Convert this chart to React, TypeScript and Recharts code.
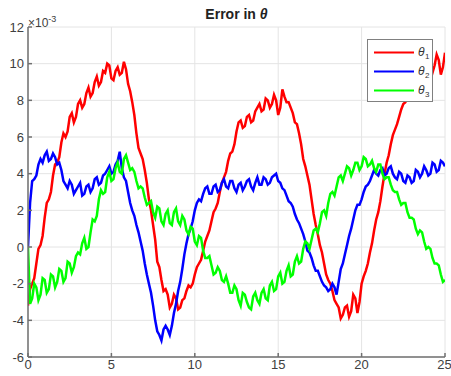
import { LineChart, Line, XAxis, YAxis, CartesianGrid } from "recharts";

// sample spacing of the time axis (s)
const STEP = 0.125;

// θ errors, in units of 1e-3, one value per STEP from t = 0 to t = 25
const theta1 = [
  -3.2, -2.3, -2.0, -1.7, -0.9, -0.1, 0.1, 0.6, 1.6, 2.4, 2.6, 3.0, 3.9, 4.5, 4.6, 4.9, 5.7, 6.2, 6.0, 6.3,
  7.1, 7.3, 6.8, 7.1, 7.8, 8.0, 7.6, 7.8, 8.4, 8.7, 8.2, 8.4, 9.0, 9.3, 8.8, 9.0, 9.6, 9.5, 10.0, 9.9,
  9.2, 9.1, 9.6, 9.8, 9.4, 9.5, 10.1, 9.7, 8.9, 8.5, 7.9, 7.2, 6.2, 5.4, 5.1, 4.8, 4.2, 3.5, 2.6, 2.0,
  1.2, 0.4, -0.8, -1.1, -1.8, -2.4, -2.3, -2.6, -3.3, -3.1, -2.6, -2.8, -3.4, -3.3, -2.9, -2.8, -2.4, -2.1, -2.2, -2.0,
  -1.5, -1.1, -0.9, -0.7, -0.2, 0.3, 0.6, 0.9, 1.4, 1.9, 2.1, 2.4, 3.0, 3.5, 3.8, 4.1, 4.7, 5.1, 5.2, 5.6,
  6.3, 6.8, 6.9, 6.5, 6.6, 7.1, 7.2, 6.8, 6.9, 7.4, 7.6, 7.8, 7.4, 7.5, 8.1, 8.0, 7.6, 7.8, 8.3, 8.0,
  7.2, 7.6, 8.6, 8.2, 7.9, 7.9, 7.6, 7.3, 6.8, 6.7, 6.2, 5.6, 4.8, 4.4, 3.9, 3.4, 2.6, 1.8, 1.2, 0.7,
  0.1, -0.3, -0.9, -1.5, -1.8, -2.0, -2.4, -2.9, -3.1, -3.3, -3.9, -3.7, -3.3, -3.2, -3.8, -3.5, -2.6, -2.8, -3.6, -3.0,
  -2.0, -1.6, -1.3, -0.9, -0.3, 0.2, 0.9, 1.5, 1.9, 2.5, 3.3, 4.0, 4.6, 5.0, 5.6, 6.1, 6.4, 6.7, 7.1, 7.5,
  7.8, 7.9, 8.2, 8.6, 8.8, 8.8, 9.0, 9.2, 9.3, 9.4, 9.1, 9.3, 9.6, 9.8, 9.5, 9.9, 10.5, 10.2, 9.4, 9.8,
  10.6,
];
const theta2 = [
  0.0, 2.4, 3.6, 3.7, 3.9, 4.5, 4.8, 4.6, 5.0, 5.2, 4.7, 4.8, 5.1, 4.9, 4.5, 4.6, 4.2, 3.6, 3.4, 3.2,
  3.6, 3.4, 2.9, 3.1, 3.3, 3.5, 2.8, 2.9, 3.3, 3.4, 3.0, 3.2, 3.7, 3.8, 3.4, 3.5, 3.9, 4.0, 4.2, 4.4,
  4.0, 4.1, 4.5, 4.7, 5.2, 4.3, 3.8, 3.6, 3.0, 2.4, 2.0, 1.7, 1.2, 0.8, 0.3, -0.2, -0.9, -1.5, -2.0, -2.5,
  -3.2, -4.0, -4.6, -4.8, -5.1, -4.5, -4.3, -4.5, -4.8, -4.3, -3.6, -3.1, -2.4, -1.9, -1.2, -0.4, 0.2, 0.7, 1.0, 1.4,
  2.0, 2.4, 2.6, 2.5, 2.9, 3.2, 3.3, 2.9, 2.9, 3.3, 3.4, 3.0, 3.1, 3.5, 3.7, 3.3, 3.2, 3.6, 3.6, 3.2,
  3.0, 3.4, 3.5, 3.1, 3.3, 3.6, 3.7, 3.3, 3.1, 3.5, 3.8, 3.4, 3.4, 3.8, 3.7, 3.4, 3.5, 3.8, 3.9, 4.0,
  3.6, 3.5, 3.2, 3.1, 2.8, 2.5, 2.4, 2.2, 1.8, 1.5, 1.3, 1.0, 0.7, 0.3, -0.2, -0.3, -0.6, -1.0, -1.3, -1.3,
  -1.6, -1.9, -2.1, -2.2, -2.4, -2.3, -2.0, -2.2, -2.6, -1.9, -1.2, -0.9, -0.4, 0.1, 0.6, 1.0, 1.5, 2.0, 2.3, 2.3,
  2.6, 3.0, 3.3, 3.4, 3.6, 3.9, 4.2, 4.0, 3.9, 4.2, 4.3, 3.9, 4.0, 4.3, 4.4, 4.0, 3.8, 3.7, 4.1, 4.0,
  3.6, 3.5, 3.9, 3.8, 3.5, 3.6, 4.2, 4.1, 3.8, 4.0, 4.4, 4.2, 3.9, 4.0, 4.6, 4.5, 4.1, 4.2, 4.7, 4.6,
  4.4,
];
const theta3 = [
  0.0, -3.1, -2.8, -2.0, -2.2, -2.9, -2.6, -1.7, -1.8, -2.5, -2.3, -1.5, -1.6, -2.2, -1.9, -1.2, -1.3, -1.9, -1.7, -0.8,
  -0.9, -1.4, -1.1, -0.5, -0.3, -0.4, 0.2, 0.5, -0.1, 0.0, 0.8, 1.5, 1.4, 1.7, 2.6, 3.1, 2.9, 3.0, 3.8, 4.1,
  3.6, 3.7, 4.3, 4.6, 4.1, 4.0, 4.8, 5.0, 4.6, 4.2, 4.3, 4.1, 3.6, 3.2, 3.3, 3.2, 2.7, 2.3, 2.4, 2.5,
  1.9, 1.6, 2.2, 2.1, 1.4, 1.2, 1.8, 2.0, 1.3, 1.2, 1.9, 2.1, 1.4, 1.2, 1.7, 1.5, 0.9, 0.7, 1.1, 1.0,
  0.3, 0.1, 0.6, 0.5, -0.2, -0.6, -0.6, -0.5, -1.0, -1.5, -1.4, -1.1, -1.3, -1.8, -1.9, -1.6, -2.0, -2.5, -2.5, -2.1,
  -2.3, -2.9, -3.2, -2.5, -2.6, -3.0, -3.3, -3.4, -2.7, -2.5, -2.9, -3.1, -2.5, -2.3, -2.8, -2.9, -2.1, -1.9, -2.4, -2.3,
  -1.6, -1.4, -2.0, -1.9, -1.3, -1.0, -1.6, -1.5, -0.8, -0.5, -0.9, -0.8, -0.1, 0.3, 0.2, -0.1, 0.4, 0.9, 1.0, 0.8,
  1.3, 1.9, 2.0, 1.7, 2.4, 2.9, 3.0, 2.8, 3.3, 3.8, 3.9, 3.6, 4.0, 4.4, 4.3, 3.9, 4.2, 4.6, 4.6, 4.2,
  4.4, 4.9, 4.8, 4.4, 4.5, 4.7, 4.3, 4.1, 4.5, 4.5, 4.0, 3.7, 3.8, 3.8, 3.4, 3.1, 3.0, 3.0, 2.6, 2.3,
  2.4, 2.4, 1.9, 1.6, 1.6, 1.5, 1.0, 0.7, 0.9, 0.8, 0.3, -0.1, 0.0, -0.1, -0.6, -0.9, -0.9, -1.0, -1.5, -1.9,
  -1.8,
];

const xTicks = [0, 5, 10, 15, 20, 25];
const yTicks = [-6, -4, -2, 0, 2, 4, 6, 8, 10, 12];

const series = [
  { key: "theta1", sub: "1", color: "#ff0000" },
  { key: "theta2", sub: "2", color: "#0000ff" },
  { key: "theta3", sub: "3", color: "#00ff00" },
];

const data = theta1.map((v, i) => ({
  t: i * STEP,
  theta1: v,
  theta2: theta2[i],
  theta3: theta3[i],
}));

const FONT = "'Liberation Sans', Arial, sans-serif";
const tickStyle = { fontSize: 13, fill: "#404040", fontFamily: FONT };

export default function App() {
  return (
    <div
      style={{
        position: "relative",
        width: 451,
        height: 376,
        background: "#fff",
        fontFamily: FONT,
      }}
    >
      <style>{`html,body{margin:0;padding:0;overflow:hidden;}`}</style>
      <LineChart
        width={451}
        height={376}
        data={data}
        margin={{ top: 27, right: 6, left: 0, bottom: 0 }}
        style={{ overflow: "visible" }}
      >
        <CartesianGrid stroke="#e4e4e4" strokeWidth={1} />
        <XAxis
          dataKey="t"
          type="number"
          domain={[0, 25]}
          ticks={xTicks}
          height={19}
          stroke="#707070"
          strokeWidth={1.5}
          tickSize={-4}
          tickMargin={7}
          tick={tickStyle}
          allowDataOverflow
        />
        <YAxis
          type="number"
          domain={[-6, 12]}
          ticks={yTicks}
          width={28}
          stroke="#707070"
          strokeWidth={1.5}
          tickSize={-4}
          tickMargin={8}
          tick={tickStyle}
          allowDataOverflow
        />
        {series.map((s) => (
          <Line
            key={s.key}
            dataKey={s.key}
            stroke={s.color}
            strokeWidth={2.5}
            strokeLinejoin="miter"
            dot={false}
            type="linear"
            isAnimationActive={false}
          />
        ))}
      </LineChart>

      {/* title */}
      <div
        style={{
          position: "absolute",
          left: 28,
          width: 417,
          top: 6,
          textAlign: "center",
          fontSize: 14,
          lineHeight: "16px",
          fontWeight: "bold",
          color: "#222",
        }}
      >
        Error in <i>θ</i>
      </div>

      {/* exponent label */}
      <div
        style={{
          position: "absolute",
          left: 28,
          top: 12,
          fontSize: 12,
          lineHeight: "14px",
          color: "#404040",
        }}
      >
        ×10<sup style={{ fontSize: 9, verticalAlign: 5 }}>-3</sup>
      </div>

      {/* legend */}
      <div
        style={{
          position: "absolute",
          left: 367,
          top: 39,
          width: 64,
          height: 61,
          border: "1px solid #808080",
          background: "#fff",
        }}
      >
        <svg width={64} height={61}>
          {series.map((s, i) => {
            const y = 12.5 + i * 19;
            return (
              <g key={s.key}>
                <line x1={6} x2={46} y1={y} y2={y} stroke={s.color} strokeWidth={2} />
                <text x={50} y={y + 3} fontSize={12} fontStyle="italic" fill="#333" fontFamily={FONT}>
                  θ
                </text>
                <text x={57} y={y + 6} fontSize={8} fill="#333" fontFamily={FONT}>
                  {s.sub}
                </text>
              </g>
            );
          })}
        </svg>
      </div>
    </div>
  );
}
